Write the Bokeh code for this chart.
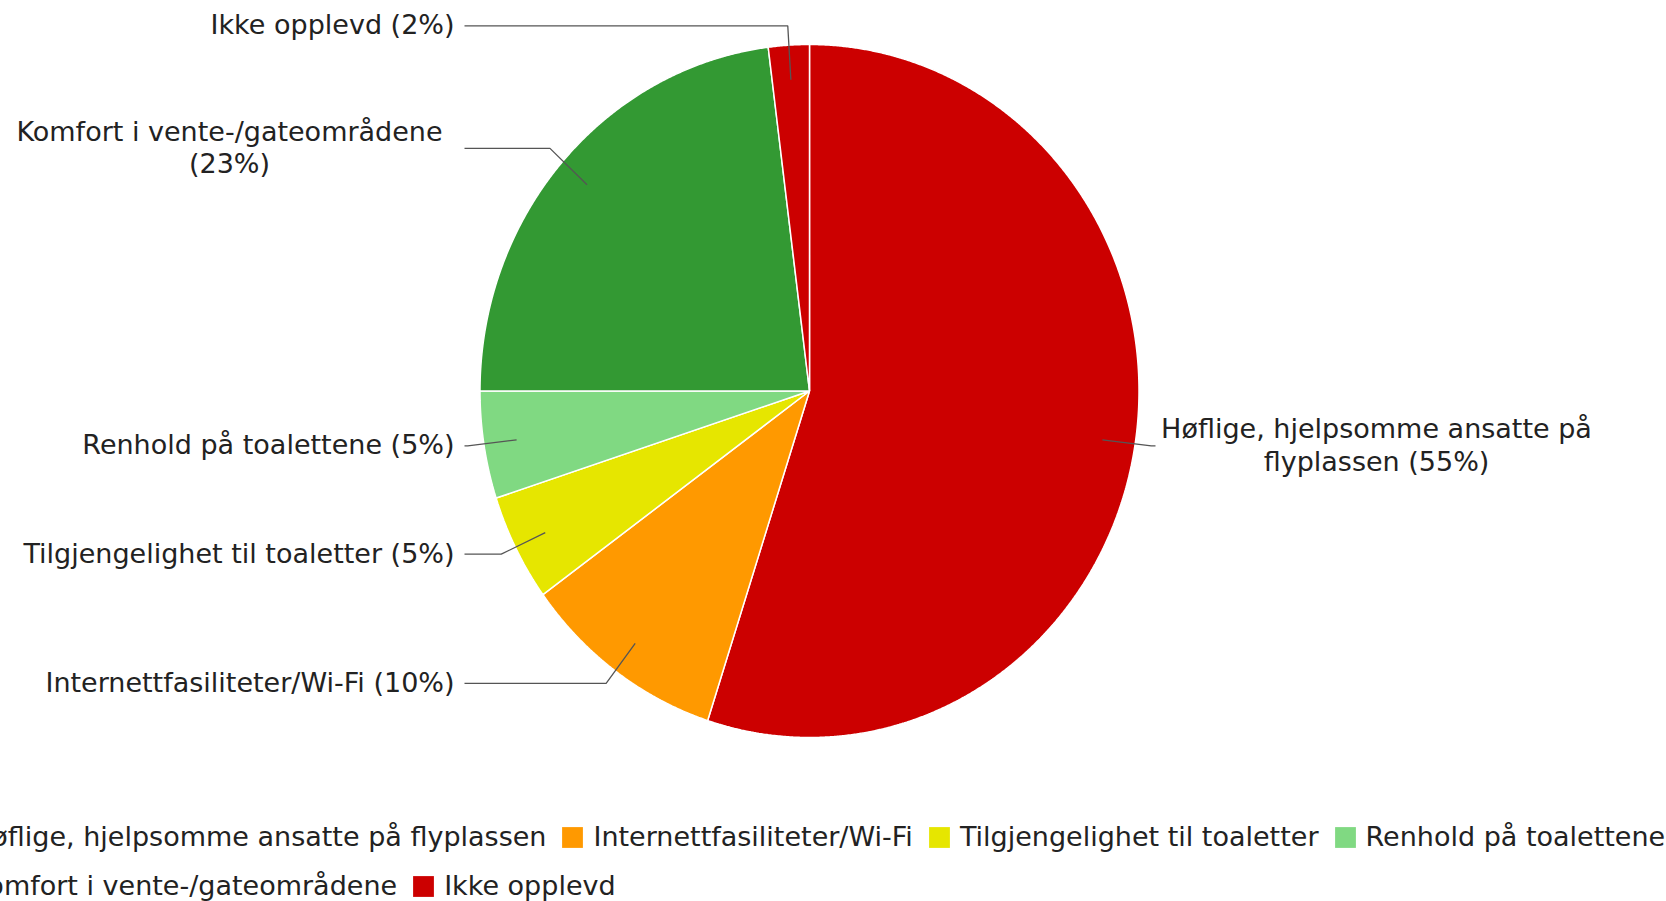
import textwrap
import numpy as np
from bokeh.plotting import figure
from bokeh.models import ColumnDataSource, Range1d, Legend, LegendItem
from bokeh.core.properties import value
from bokeh.embed import file_html
from bokeh.resources import INLINE

categories = [
    "Høflige, hjelpsomme ansatte på flyplassen",
    "Internettfasiliteter/Wi-Fi",
    "Tilgjengelighet til toaletter",
    "Renhold på toalettene",
    "Komfort i vente-/gateområdene",
    "Ikke opplevd",
]
values = [55, 10, 5, 5, 23, 2]
colors = ["#cc0000", "#ff9900", "#e6e600", "#80d982", "#339933", "#cc0000"]

# layout (screen-pixel coordinates of the reference page)
CX, CY, RX, RY = 809.0, 390.5, 329.5, 346.5
FONT = "DejaVu Sans"
FSIZE = "27px"
TXT = "#222222"
W, H = 1666, 901

p = figure(width=W, height=H, x_range=Range1d(0, W), y_range=Range1d(H, 0),
           output_backend="svg", toolbar_location=None, min_border=0,
           x_axis_type=None, y_axis_type=None)
p.grid.visible = False
p.outline_line_color = None
p.background_fill_color = "white"

total = float(sum(values))
frac = np.array(values) / total
ends = np.cumsum(frac) * 2 * np.pi
starts = ends - frac * 2 * np.pi

xs, ys = [], []
for a0, a1 in zip(starts, ends):
    t = np.linspace(a0, a1, max(int((a1 - a0) / 0.004), 4))
    xs.append([CX] + list(CX + RX * np.sin(t)))
    ys.append([CY] + list(CY - RY * np.cos(t)))
src = ColumnDataSource(dict(xs=xs, ys=ys, color=colors, label=categories))
r = p.patches("xs", "ys", source=src, fill_color="color", line_color="white", line_width=1.5)

# legend swatch renderer (borderless quads placed outside the visible range)
off = [-1000.0] * len(values)
lsrc = ColumnDataSource(dict(l=off, r=off, t=off, b=off, color=colors))
sw = p.quad(left="l", right="r", top="t", bottom="b", source=lsrc,
            fill_color="color", line_color=None)

# leader lines
mid = (starts + ends) / 2
s, c = np.sin(mid), np.cos(mid)
ix, iy = CX + 0.9 * RX * s, CY - 0.9 * RY * c
kx, ky = CX + 1.05 * RX * s, CY - 1.05 * RY * c
left = s < 0
LEFT_END, RIGHT_END = 464, 1155
lx, ly = [], []
for i in range(len(values)):
    ex = LEFT_END if left[i] else max(kx[i], RIGHT_END)
    lx.append([ix[i], kx[i], ex])
    ly.append([iy[i], ky[i] - 2, ky[i] - 2])
p.multi_line(lx, ly, line_color="#555555", line_width=1.3)

# labels
labels = [textwrap.fill(f"{cat} ({round(v / total * 100)}%)", 34) for cat, v in zip(categories, values)]
groups = {"right": dict(x=[], y=[], t=[]), "center": dict(x=[], y=[], t=[]), "left": dict(x=[], y=[], t=[])}
for i, lab in enumerate(labels):
    multi = "\n" in lab
    if left[i]:
        if multi:
            g, x = "center", 229
        else:
            g, x = "right", 454
    else:
        if multi:
            g, x = "center", 1376
        else:
            g, x = "left", 1161
    groups[g]["x"].append(x)
    groups[g]["y"].append(ky[i] - 3)
    groups[g]["t"].append(lab)
for align, d in groups.items():
    if d["t"]:
        p.text(x=d["x"], y=d["y"], text=d["t"], text_align=align, text_baseline="middle",
               text_font=value(FONT), text_font_size=FSIZE, text_color=TXT, text_line_height=1.05)

# legend rows
rows = [(list(range(0, 4)), (-63, 49)), (list(range(4, 6)), (-63, 0))]
for idx, loc in rows:
    items = [LegendItem(label=categories[i], renderers=[sw], index=i) for i in idx]
    lg = Legend(items=items, location=loc, orientation="horizontal",
                glyph_width=26, glyph_height=26, label_standoff=8, spacing=13,
                padding=0, margin=0, label_text_font=FONT, label_text_font_size=FSIZE,
                label_text_color=TXT, label_text_baseline="middle",
                background_fill_alpha=0, border_line_alpha=0)
    p.add_layout(lg)

open("out.html", "w").write(file_html(p, INLINE))
